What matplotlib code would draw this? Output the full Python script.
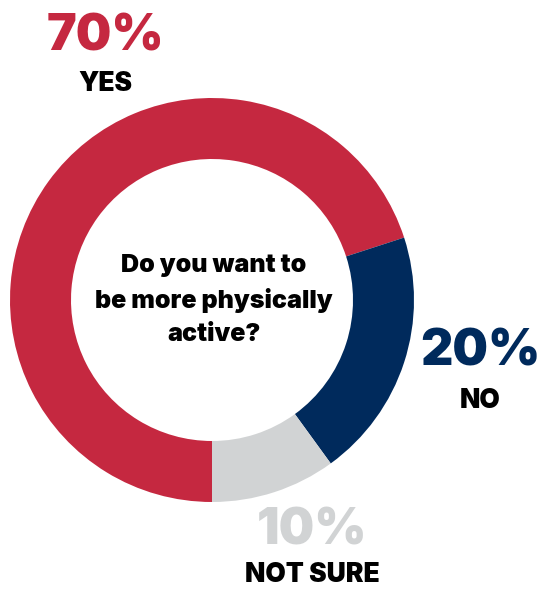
import matplotlib
matplotlib.use('Agg')
import matplotlib.pyplot as plt

# survey answers
labels = ['YES', 'NO', 'NOT SURE']
values = [70, 20, 10]
colors = ['#C52840', '#002A5C', '#D1D3D4']
question = 'Do you want to\nbe more physically\nactive?'

FONT = ['Inter', 'DejaVu Sans']
H = 590


def main():
    fig = plt.figure(figsize=(5.4, 5.9), dpi=100)
    ax = fig.add_axes([0, 0, 1, 1])

    ax.pie(values, colors=colors, startangle=-90, counterclock=False,
           center=(212, H - 300), radius=202, frame=True,
           wedgeprops=dict(width=61, linewidth=0))
    ax.set_xlim(0, 540)
    ax.set_ylim(0, H)
    ax.axis('off')

    ax.text(214, H - 300, question, ha='center', va='center', fontsize=18,
            fontweight=900, family=FONT, linespacing=1.55, color='black')

    # percentage + label positions (pixels from top)
    spots = [(105, 37, 84), (480, 352, 401), (312, 531, 575)]
    for lab, val, col, (x, yp, yl) in zip(labels, values, colors, spots):
        ax.text(x, H - yp, f'{val}%', ha='center', va='center', fontsize=36,
                fontweight=900, family=FONT, color=col)
        ax.text(x, H - yl, lab, ha='center', va='center', fontsize=19,
                fontweight=900, family=FONT, color='black')

    fig.savefig('out.png', dpi=100)


if __name__ == '__main__':
    main()
